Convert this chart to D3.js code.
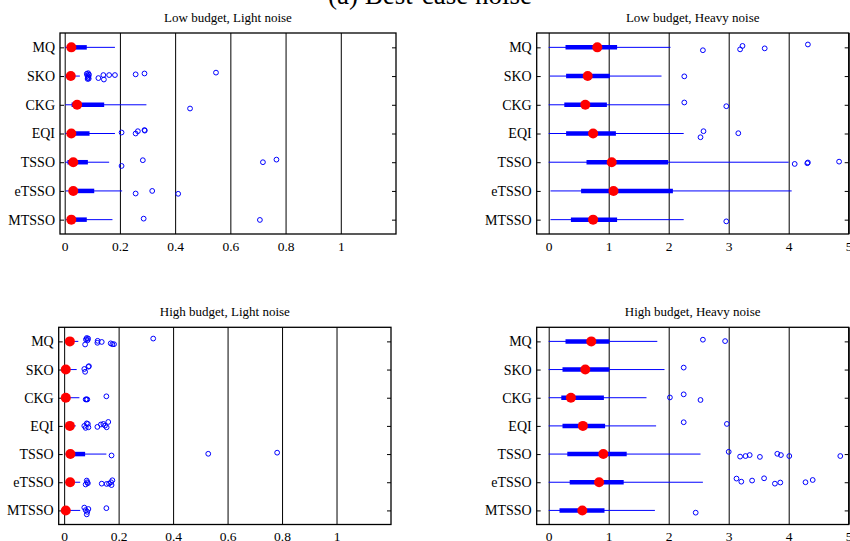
<!DOCTYPE html>
<html>
<head>
<meta charset="utf-8">
<script src="https://cdn.jsdelivr.net/npm/d3@7"></script>
<style>
  body { margin: 0; background: #fff; }
  svg { display: block; font-family: "Liberation Serif", "Times New Roman", serif; }
</style>
</head>
<body>
<div id="chart"></div>
<script>
const methods = ["MQ", "SKO", "CKG", "EQI", "TSSO", "eTSSO", "MTSSO"];
const mainTitle = "(a) Best-case noise";
const panelTitles = ["Low budget, Light noise", "Low budget, Heavy noise", "High budget, Light noise", "High budget, Heavy noise"];
const lightTicks = [0, 0.2, 0.4, 0.6, 0.8, 1];
const heavyTicks = [0, 1, 2, 3, 4, 5];

// box stats per method: lower whisker, q1, median, q3, upper whisker
const llLow = [0.001, 0.001, 0.002, 0.002, 0.002, 0.004, 0.004];
const llQ1  = [0.012, 0.012, 0.025, 0.010, 0.010, 0.020, 0.010];
const llMed = [0.024, 0.022, 0.045, 0.024, 0.031, 0.031, 0.024];
const llQ3  = [0.080, 0.035, 0.143, 0.090, 0.084, 0.107, 0.080];
const llUp  = [0.182, 0.055, 0.296, 0.182, 0.161, 0.208, 0.173];
// outliers: [value, vertical jitter in rows]
const llOut = [
  [],
  [[0.080,-0.08],[0.082,-0.02],[0.084,0.06],[0.085,-0.10],[0.086,0.02],[0.087,0.09],[0.083,0.10],[0.088,-0.05],
   [0.122,0.07],[0.140,-0.035],[0.142,0.12],[0.161,-0.035],[0.182,-0.035],[0.257,-0.06],[0.289,-0.09],[0.548,-0.12]],
  [[0.454,0.13]],
  [[0.206,-0.035],[0.257,0],[0.265,-0.08],[0.289,-0.12],[0.290,-0.10]],
  [[0.206,0.13],[0.283,-0.07],[0.718,0],[0.767,-0.09]],
  [[0.257,0.09],[0.317,0],[0.411,0.10]],
  [[0.286,-0.035],[0.707,0.01]]
];

const lhLow = [0.00, 0.02, 0.00, 0.00, 0.00, 0.03, 0.03];
const lhQ1  = [0.28, 0.29, 0.26, 0.29, 0.63, 0.54, 0.37];
const lhMed = [0.81, 0.65, 0.61, 0.74, 1.05, 1.08, 0.74];
const lhQ3  = [1.14, 1.02, 0.97, 1.12, 1.99, 2.07, 1.14];
const lhUp  = [2.03, 1.88, 2.02, 2.25, 4.00, 4.05, 2.25];
const lhOut = [
  [[2.57,0.10],[3.19,0.07],[3.23,-0.05],[3.60,0.035],[4.32,-0.10]],
  [[2.26,0.01]],
  [[2.26,-0.08],[2.96,0.05]],
  [[2.53,0.13],[2.58,-0.08],[3.16,-0.01]],
  [[4.10,0.06],[4.31,0.035],[4.32,0.01],[4.84,-0.02]],
  [],
  [[2.96,0.06]]
];

const hlLow = [0.004, 0.002, 0.002, 0.004, 0.004, 0.004, 0.002];
const hlQ1  = [0.010, 0.003, 0.003, 0.010, 0.016, 0.010, 0.003];
const hlMed = [0.021, 0.006, 0.006, 0.021, 0.023, 0.022, 0.006];
const hlQ3  = [0.035, 0.012, 0.012, 0.030, 0.077, 0.035, 0.012];
const hlUp  = [0.052, 0.046, 0.056, 0.043, 0.155, 0.059, 0.059];
const hlOut = [
  [[0.077,0.11],[0.080,-0.07],[0.083,-0.12],[0.086,-0.04],[0.088,-0.10],[0.122,0.05],[0.123,-0.02],
   [0.138,0.02],[0.171,0.07],[0.177,0.10],[0.183,0.10],[0.327,-0.10]],
  [[0.074,-0.02],[0.077,0.08],[0.089,-0.10],[0.091,-0.12]],
  [[0.079,0.06],[0.082,0.06],[0.085,0.06],[0.155,-0.05]],
  [[0.074,0],[0.079,0.07],[0.083,-0.09],[0.087,-0.07],[0.089,0.05],[0.122,0.035],[0.135,-0.05],
   [0.144,-0.07],[0.150,-0.01],[0.156,0.05],[0.162,-0.14]],
  [[0.174,0.05],[0.529,-0.01],[0.782,-0.05]],
  [[0.079,0.08],[0.083,-0.06],[0.085,0],[0.087,0.035],[0.138,0.05],[0.156,0.06],[0.165,0.05],
   [0.172,0],[0.174,0.10],[0.177,-0.07]],
  [[0.074,-0.10],[0.079,-0.01],[0.083,0.14],[0.085,0.05],[0.089,-0.05],[0.155,-0.08]]
];

const hhLow = [0.00, 0.00, 0.00, 0.00, 0.00, 0.00, 0.00];
const hhQ1  = [0.28, 0.23, 0.21, 0.23, 0.31, 0.35, 0.18];
const hhMed = [0.71, 0.61, 0.37, 0.57, 0.91, 0.84, 0.56];
const hhQ3  = [1.01, 1.01, 0.92, 0.94, 1.30, 1.25, 0.93];
const hhUp  = [1.81, 1.93, 1.63, 1.79, 2.53, 2.57, 1.77];
const hhOut = [
  [[2.57,-0.06],[2.94,-0.01]],
  [[2.25,-0.07]],
  [[2.02,-0.01],[2.25,-0.12],[2.53,0.08]],
  [[2.25,-0.13],[2.97,-0.07]],
  [[3.00,-0.08],[3.19,0.09],[3.28,0.07],[3.35,0.035],[3.52,0.10],[3.81,-0.01],[3.87,0.035],[4.01,0.07],[4.86,0.07]],
  [[3.13,-0.13],[3.21,-0.02],[3.39,-0.06],[3.59,-0.14],[3.77,0.05],[3.86,0.01],[4.28,0],[4.40,-0.08]],
  [[2.45,0.08]]
];

const W = 850, H = 541;
const svg = d3.select("#chart").append("svg").attr("width", W).attr("height", H);

svg.append("text")
  .attr("x", 430).attr("y", 4)
  .attr("text-anchor", "middle")
  .style("font-size", "27px")
  .text(mainTitle);

const panels = [
  { title: panelTitles[0], box: [60, 396, 33, 234], dom: [-0.017, 1.2], ticks: lightTicks,
    low: llLow, q1: llQ1, med: llMed, q3: llQ3, up: llUp, out: llOut },
  { title: panelTitles[1], box: [536.7, 848.7, 33, 234], dom: [-0.2, 5], ticks: heavyTicks,
    low: lhLow, q1: lhQ1, med: lhMed, q3: lhQ3, up: lhUp, out: lhOut },
  { title: panelTitles[2], box: [58.7, 391, 327.3, 524.5], dom: [-0.02, 1.2], ticks: lightTicks,
    low: hlLow, q1: hlQ1, med: hlMed, q3: hlQ3, up: hlUp, out: hlOut },
  { title: panelTitles[3], box: [536.7, 848.7, 327.3, 524.5], dom: [-0.2, 5], ticks: heavyTicks,
    low: hhLow, q1: hhQ1, med: hhMed, q3: hhQ3, up: hhUp, out: hhOut }
];

const fmt = d3.format("~g");

// d3 axes put a sans-serif font on their group; drop it so the page serif applies
function serifAxis(a, size) {
  a.attr("font-family", null).attr("font-size", null);
  a.select(".domain").remove();
  a.selectAll("text").style("font-size", size).attr("fill", "#000");
}

panels.forEach(p => {
  const [x0, x1, y0, y1] = p.box;
  const x = d3.scaleLinear().domain(p.dom).range([x0, x1]);
  const y = d3.scaleLinear().domain([0.5, 7.5]).range([y0, y1]);
  const g = svg.append("g");

  // vertical grid lines at ticks
  g.append("g")
    .attr("transform", `translate(0,${y1})`)
    .call(d3.axisBottom(x).tickValues(p.ticks).tickSize(-(y1 - y0)).tickFormat(""))
    .call(a => a.select(".domain").remove())
    .call(a => a.selectAll("line").attr("stroke", "#000").attr("stroke-width", 1));

  // tick labels
  g.append("g")
    .attr("transform", `translate(0,${y1})`)
    .call(d3.axisBottom(x).tickValues(p.ticks).tickSize(0).tickPadding(7).tickFormat(fmt))
    .call(a => serifAxis(a, "13.5px"));

  // category labels, inward ticks left
  g.append("g")
    .attr("transform", `translate(${x0},0)`)
    .call(d3.axisLeft(y).tickValues(d3.range(1, 8)).tickSize(-4).tickPadding(5).tickFormat(i => methods[i - 1]))
    .call(a => serifAxis(a, "14px"));

  // inward ticks right
  g.append("g")
    .attr("transform", `translate(${x1},0)`)
    .call(d3.axisRight(y).tickValues(d3.range(1, 8)).tickSize(-4).tickFormat(""))
    .call(a => a.select(".domain").remove());

  const rows = methods.map((m, i) => ({ i: i + 1, low: p.low[i], q1: p.q1[i], med: p.med[i], q3: p.q3[i], up: p.up[i] }));

  g.selectAll(".whisker").data(rows).enter().append("line")
    .attr("x1", d => x(d.low)).attr("x2", d => x(d.up))
    .attr("y1", d => y(d.i)).attr("y2", d => y(d.i))
    .attr("stroke", "#0000ff").attr("stroke-width", 1);

  g.selectAll(".boxbar").data(rows).enter().append("line")
    .attr("x1", d => x(d.q1)).attr("x2", d => x(d.q3))
    .attr("y1", d => y(d.i)).attr("y2", d => y(d.i))
    .attr("stroke", "#0000ff").attr("stroke-width", 4.5);

  const outs = [];
  p.out.forEach((list, i) => list.forEach(o => outs.push({ i: i + 1, v: o[0], j: o[1] })));
  g.selectAll(".outlier").data(outs).enter().append("circle")
    .attr("cx", d => x(d.v)).attr("cy", d => y(d.i + d.j))
    .attr("r", 2.4)
    .attr("fill", "none").attr("stroke", "#0000ff").attr("stroke-width", 1);

  g.selectAll(".median").data(rows).enter().append("circle")
    .attr("cx", d => x(d.med)).attr("cy", d => y(d.i))
    .attr("r", 5)
    .attr("fill", "#ff0000");

  // frame
  g.append("rect")
    .attr("x", x0).attr("y", y0).attr("width", x1 - x0).attr("height", y1 - y0)
    .attr("fill", "none").attr("stroke", "#000").attr("stroke-width", 1.3);

  g.append("text")
    .attr("x", (x0 + x1) / 2).attr("y", y0 - 11)
    .attr("text-anchor", "middle")
    .style("font-size", "13px")
    .text(p.title);
});
</script>
</body>
</html>
